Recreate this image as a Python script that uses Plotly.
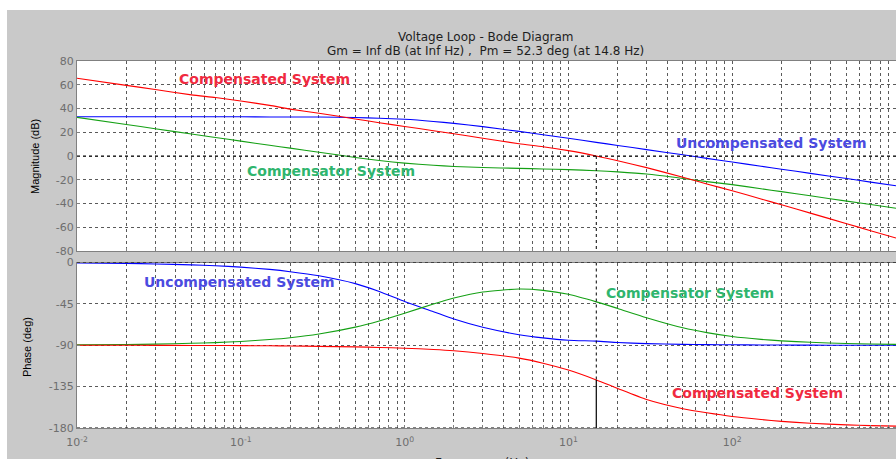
import plotly.graph_objects as go

# ---------------- data ----------------
freq = [0.01, 0.02, 0.03, 0.05, 0.07, 0.1, 0.15, 0.2, 0.3, 0.5, 0.7, 1, 1.5, 2, 3,
        5, 7, 10, 14.8, 20, 30, 50, 70, 100, 150, 200, 300, 500, 700, 1000]

mag_uncomp = [33.0, 33.0, 33.0, 33.0, 33.0, 33.0, 32.9, 32.9, 32.8, 32.4, 31.8, 30.9, 29.1, 27.5, 24.7,
              20.7, 17.9, 14.9, 11.5, 8.9, 5.4, 1.0, -2.0, -5.1, -8.6, -11.1, -14.6, -19.0, -22.0, -25.1]
mag_compensator = [32.5, 26.5, 23.0, 18.5, 15.6, 12.5, 9.0, 6.6, 3.2, -1.2, -3.8, -6.0, -7.8, -8.8, -9.7,
                   -10.4, -10.9, -11.5, -12.4, -13.4, -15.2, -18.9, -21.6, -24.1, -27.6, -30.0, -33.5, -38.0, -40.9, -44.0]
mag_compensated = [65.5, 59.5, 56.0, 51.5, 49.2, 46.3, 42.6, 39.5, 36.0, 31.2, 28.0, 24.9, 21.3, 18.7, 15.0,
                   10.3, 7.8, 4.5, 0.0, -4.0, -9.8, -17.9, -23.6, -29.2, -36.2, -41.1, -48.1, -57.0, -62.9, -69.1]

phase_uncomp = [-0.5, -1.0, -1.6, -2.6, -3.6, -5.0, -7.5, -10.0, -14.5, -23.0, -31.5, -42.4, -53.5, -61.5, -70.5,
                -78.5, -82.0, -84.5, -85.5, -87.0, -88.2, -89.0, -89.3, -89.5, -89.7, -89.8, -89.9, -90.0, -90.0, -90.0]
phase_compensator = [-89.6, -89.2, -88.8, -87.9, -87.1, -85.9, -83.8, -81.8, -77.8, -70.3, -63.6, -55.2, -45.1, -38.7, -32.1,
                     -28.9, -30.3, -34.6, -42.8, -50.0, -60.0, -71.0, -76.3, -80.5, -83.6, -85.2, -86.8, -88.1, -88.6, -89.1]
phase_compensated = [-90.0, -90.0, -90.1, -90.2, -90.3, -90.4, -90.6, -90.8, -91.2, -91.8, -92.4, -93.2, -94.6, -96.0, -99.0,
                     -104.0, -109.5, -117.0, -127.7, -137.0, -149.0, -159.0, -163.5, -167.5, -170.8, -172.8, -174.8, -176.6, -177.4, -178.0]

pm_freq = 14.8      # Hz, gain crossover
pm_value = 52.3     # deg, phase margin

mag_range = [-80, 80]
mag_ticks = [-80, -60, -40, -20, 0, 20, 40, 60, 80]
phase_range = [-180, 0]
phase_ticks = [-180, -135, -90, -45, 0]
decades = [-2, -1, 0, 1, 2, 3]

title_line1 = "Voltage Loop - Bode Diagram"
title_line2 = "Gm = Inf dB (at Inf Hz) ,  Pm = 52.3 deg (at 14.8 Hz)"

# ---------------- style ----------------
RED, BLUE, GREEN = "#ff0000", "#0000ff", "#14a014"
FONT = "DejaVu Sans"
GRID = "#5a5a5a"
BG = "#c9c9c9"

W, H = 896, 459
ML, MR, MT, MB = 77, 0, 61, 31
PW, PH = W - ML - MR, H - MT - MB


def px(x):
    return (x - ML) / PW


def py(y):
    return (H - MB - y) / PH


x_tickvals = [d * 10 ** k for k in decades for d in range(1, 10) if not (k == decades[-1] and d > 1)]
x_ticktext = ["10<sup>%d</sup>" % k if d == 1 else "" for k in decades for d in range(1, 10)
              if not (k == decades[-1] and d > 1)]

fig = go.Figure()

# magnitude
for y, c in [(mag_uncomp, BLUE), (mag_compensator, GREEN), (mag_compensated, RED)]:
    fig.add_trace(go.Scatter(x=freq, y=y, mode="lines", line=dict(color=c, width=1.1, shape="spline", smoothing=0.6),
                             xaxis="x", yaxis="y", hoverinfo="skip"))
# phase
for y, c in [(phase_uncomp, BLUE), (phase_compensator, GREEN), (phase_compensated, RED)]:
    fig.add_trace(go.Scatter(x=freq, y=y, mode="lines", line=dict(color=c, width=1.1, shape="spline", smoothing=0.6),
                             xaxis="x2", yaxis="y2", hoverinfo="skip"))

# margin markers
pm_phase = phase_range[0] + pm_value
fig.add_trace(go.Scatter(x=[pm_freq, pm_freq], y=[0, mag_range[0]], mode="lines",
                         line=dict(color="black", width=1, dash="dot"), xaxis="x", yaxis="y", hoverinfo="skip"))
fig.add_trace(go.Scatter(x=[pm_freq, pm_freq], y=[phase_range[1], pm_phase], mode="lines",
                         line=dict(color="black", width=1, dash="dot"), xaxis="x2", yaxis="y2", hoverinfo="skip"))
fig.add_trace(go.Scatter(x=[pm_freq, pm_freq], y=[pm_phase, phase_range[0]], mode="lines",
                         line=dict(color="black", width=1.2), xaxis="x2", yaxis="y2", hoverinfo="skip"))

axis_common = dict(showline=True, linecolor="#808080", linewidth=1, mirror=True,
                   showgrid=True, gridcolor=GRID, gridwidth=1, griddash="3px,3px",
                   zeroline=False, ticks="inside", ticklen=3, tickcolor="#808080",
                   tickfont=dict(family=FONT, size=11, color="#6e6e6e"))

fig.update_layout(
    width=W, height=H,
    margin=dict(l=ML, r=MR, t=MT, b=MB),
    paper_bgcolor=BG, plot_bgcolor="white",
    showlegend=False, hovermode=False,
    xaxis=dict(type="log", range=[decades[0], decades[-1]], anchor="y", domain=[0, 1],
               tickvals=x_tickvals, ticktext=["" for _ in x_tickvals], **axis_common),
    yaxis=dict(range=mag_range, domain=[py(251), 1], anchor="x", tickvals=mag_ticks,
               ticktext=[str(v) for v in mag_ticks], **axis_common),
    xaxis2=dict(type="log", range=[decades[0], decades[-1]], anchor="y2", domain=[0, 1],
                tickvals=x_tickvals, ticktext=x_ticktext, ticklabelstandoff=4, **axis_common),
    yaxis2=dict(range=phase_range, domain=[0, py(262.5)], anchor="x2", tickvals=phase_ticks,
                ticktext=[str(v) for v in phase_ticks], **axis_common),
)

# reference lines (0 dB, 0 deg, -180 deg)
for yref, yv in [("y", 0), ("y2", phase_range[1]), ("y2", phase_range[0])]:
    fig.add_shape(type="line", xref="x domain" if yref == "y" else "x2 domain", x0=0, x1=1,
                  yref=yref, y0=yv, y1=yv, line=dict(color="black", width=1, dash="3px,3px"))

# white strips (top and left) of the window
fig.add_shape(type="rect", xref="paper", yref="paper", x0=px(-5), x1=px(W + 5), y0=py(10), y1=py(-5),
              fillcolor="white", line=dict(width=0), layer="below")
fig.add_shape(type="rect", xref="paper", yref="paper", x0=px(-5), x1=px(7), y0=py(H + 5), y1=py(-5),
              fillcolor="white", line=dict(width=0), layer="below")

ann = []
# titles
ann.append(dict(text=title_line1, x=px(485), y=py(37), xref="paper", yref="paper", showarrow=False,
                xanchor="center", yanchor="middle", font=dict(family=FONT, size=12, color="#1e1e1e")))
ann.append(dict(text=title_line2, x=px(485), y=py(51), xref="paper", yref="paper", showarrow=False,
                xanchor="center", yanchor="middle", font=dict(family=FONT, size=12, color="#1e1e1e")))
# axis titles
ann.append(dict(text="Magnitude (dB)", x=px(35), y=py(157), xref="paper", yref="paper", showarrow=False,
                textangle=-90, xanchor="center", yanchor="middle",
                font=dict(family="Liberation Sans", size=11, color="black")))
ann.append(dict(text="Phase (deg)", x=px(27), y=py(347), xref="paper", yref="paper", showarrow=False,
                textangle=-90, xanchor="center", yanchor="middle",
                font=dict(family="Liberation Sans", size=11, color="black")))
ann.append(dict(text="Frequency  (Hz)", x=px(482), y=py(454), xref="paper", yref="paper", showarrow=False,
                xanchor="center", yanchor="top", font=dict(family=FONT, size=12, color="#1e1e1e")))

# curve labels
labels = [
    ("Compensated System", 177, 79, "#f02a40"),
    ("Compensator System", 245, 171, "#2fb56e"),
    ("Uncompensated System", 674, 143, "#4b4be0"),
    ("Uncompensated System", 142, 282, "#4b4be0"),
    ("Compensator System", 604, 293, "#2fb56e"),
    ("Compensated System", 670, 393, "#f02a40"),
]
for t, lx, ly, c in labels:
    ann.append(dict(text="<b>%s</b>" % t, x=px(lx), y=py(ly), xref="paper", yref="paper", showarrow=False,
                    xanchor="left", yanchor="middle", font=dict(family=FONT, size=14, color=c)))

fig.update_layout(annotations=ann)
fig.write_html("out.html")
